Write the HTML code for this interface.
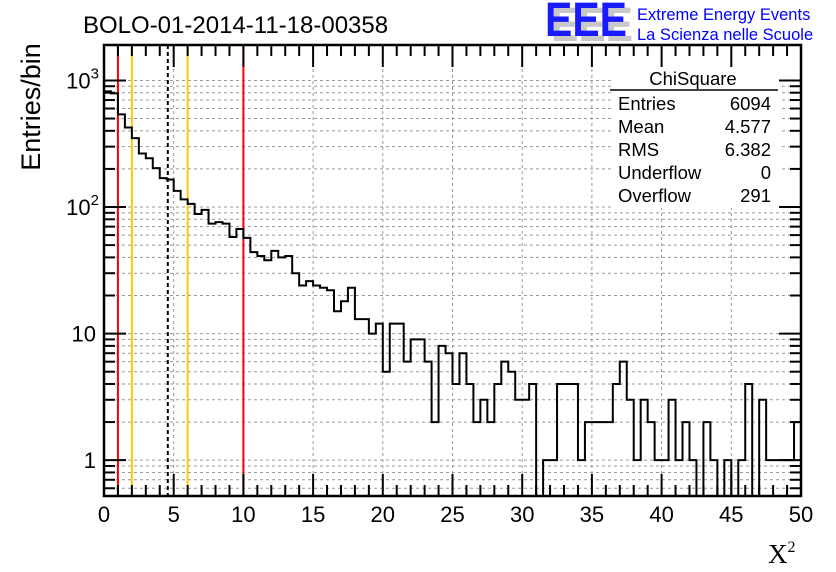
<!DOCTYPE html>
<html><head><meta charset="utf-8"><style>
body{margin:0;background:#fff;}
svg{display:block;font-family:"Liberation Sans",sans-serif;}
</style></head><body>
<svg id="c" width="836" height="572">
<text x="83" y="33" font-size="24">BOLO-01-2014-11-18-00358</text>
<g>
<text x="551" y="41" font-size="48" font-weight="bold" fill="#c8c8c8" textLength="82" lengthAdjust="spacingAndGlyphs">EEE</text>
<text x="545" y="36" font-size="48" font-weight="bold" fill="#1a1aff" textLength="82" lengthAdjust="spacingAndGlyphs">EEE</text>
<text x="637" y="20" font-size="16.5" fill="#0000ff">Extreme Energy Events</text>
<text x="637" y="40" font-size="16.5" fill="#0000ff">La Scienza nelle Scuole</text>
</g>
<g id="grid"></g>
<g id="vl"></g>
<g font-size="18.5">
<rect x="612" y="66" width="168" height="142" fill="#fff"/>
<text x="693" y="85" text-anchor="middle">ChiSquare</text>
<line x1="610" y1="90" x2="778" y2="90" stroke="#000" stroke-width="1.5"/>
<text x="618" y="110">Entries</text><text x="771" y="110" text-anchor="end">6094</text>
<text x="618" y="133">Mean</text><text x="771" y="133" text-anchor="end">4.577</text>
<text x="618" y="156">RMS</text><text x="771" y="156" text-anchor="end">6.382</text>
<text x="618" y="179">Underflow</text><text x="771" y="179" text-anchor="end">0</text>
<text x="618" y="202">Overflow</text><text x="771" y="202" text-anchor="end">291</text>
</g>
<path id="hist" fill="none" stroke="#000" stroke-width="2"/>
<g id="ax"></g>
<text x="40" y="107" font-size="27" transform="rotate(-90 40 107)" text-anchor="middle">Entries/bin</text>
<text x="768" y="563" font-size="27" font-family="Liberation Serif,serif">X<tspan font-size="16" dy="-11">2</tspan></text>
</svg>
<script>
const counts=[820,790,540,425,350,265,243,203,169,165,134,115,106,88,95,74,76,74,58,67,
57,44,41,38,45,40,41,30,24,26,24,23,22,15,18,23,13,13,10,12,
5,12,12,6,9,9,6,2,8,7,4,7,4,2,3,2,4,6,5,3,
3,4,0,1,1,4,4,4,1,2,2,2,2,4,6,3,1,3,2,1,
1,3,1,2,1,0,2,1,0,1,0,1,4,0,3,1,1,1,1,2];
const xTicks=[0,5,10,15,20,25,30,35,40,45,50];
const yTicks=[1,10,100,1000];
const refLines=[{v:1,c:"#ff0000",d:""},{v:10,c:"#ff0000",d:""},{v:2,c:"#ffcc00",d:""},{v:6,c:"#ffcc00",d:""},{v:4.577,c:"#000",d:"4,3"}];
const L=104,R=801,T=45,B=496,X0=0,X1=50,YL=-0.283,YH=3.28;
const sx=v=>L+(v-X0)/(X1-X0)*(R-L);
const sy=v=>v<=0?B:Math.max(T,B-(Math.log10(v)-YL)/(YH-YL)*(B-T));
const NS="http://www.w3.org/2000/svg";
function mk(p,t,a){const e=document.createElementNS(NS,t);for(const k in a)e.setAttribute(k,a[k]);p.appendChild(e);return e;}
const g=document.getElementById('grid'),ax=document.getElementById('ax'),vl=document.getElementById('vl');
xTicks.forEach(v=>{if(v>X0&&v<X1){const l=mk(g,'line',{x1:sx(v),x2:sx(v),y1:T,y2:B,stroke:'#999','stroke-dasharray':'3,3'});

}});
for(let d=-1;d<4;d++)for(let m=1;m<10;m++){const v=m*Math.pow(10,d);const y=sy(v);if(y<=T||y>=B)continue;
const l=mk(g,'line',{x1:L,x2:R,y1:y,y2:y,stroke:'#999','stroke-dasharray':'3,3'});


const len=m==1?22:11;
mk(ax,'line',{x1:L,x2:L+len,y1:y,y2:y,stroke:'#000','stroke-width':2});
mk(ax,'line',{x1:R,x2:R-len,y1:y,y2:y,stroke:'#000','stroke-width':2});}
refLines.forEach(r=>{const l=mk(vl,'line',{x1:sx(r.v),x2:sx(r.v),y1:T,y2:B,stroke:r.c,'stroke-width':2,'stroke-dasharray':r.d});

});
let d='',w=(X1-X0)/counts.length;
counts.forEach((c,i)=>{const x0=sx(X0+i*w),x1=sx(X0+(i+1)*w),y=sy(c);d+=(i==0?'M'+x0+','+y:'L'+x0+','+y)+'L'+x1+','+y;});
document.getElementById('hist').setAttribute('d',d);
mk(ax,'rect',{x:L,y:T,width:R-L,height:B-T,fill:'none',stroke:'#000','stroke-width':2.5});
for(let v=X0;v<=X1;v+=1){const len=v%5==0?22:11;
mk(ax,'line',{x1:sx(v),x2:sx(v),y1:B,y2:B-len,stroke:'#000','stroke-width':2});
mk(ax,'line',{x1:sx(v),x2:sx(v),y1:T,y2:T+len,stroke:'#000','stroke-width':2});}
xTicks.forEach(v=>{const t=mk(ax,'text',{x:sx(v),y:522,'font-size':22,'text-anchor':'middle'});t.textContent=v;

});
yTicks.forEach(v=>{const y=sy(v);const t=mk(ax,'text',{x:96,y:y+8,'font-size':22,'text-anchor':'end'});


if(v>=100){t.textContent='10';const s=mk(t,'tspan',{dy:-10,'font-size':15});s.textContent=Math.round(Math.log10(v));t.setAttribute('x',99);}else t.textContent=v;});
</script>
</body></html>
